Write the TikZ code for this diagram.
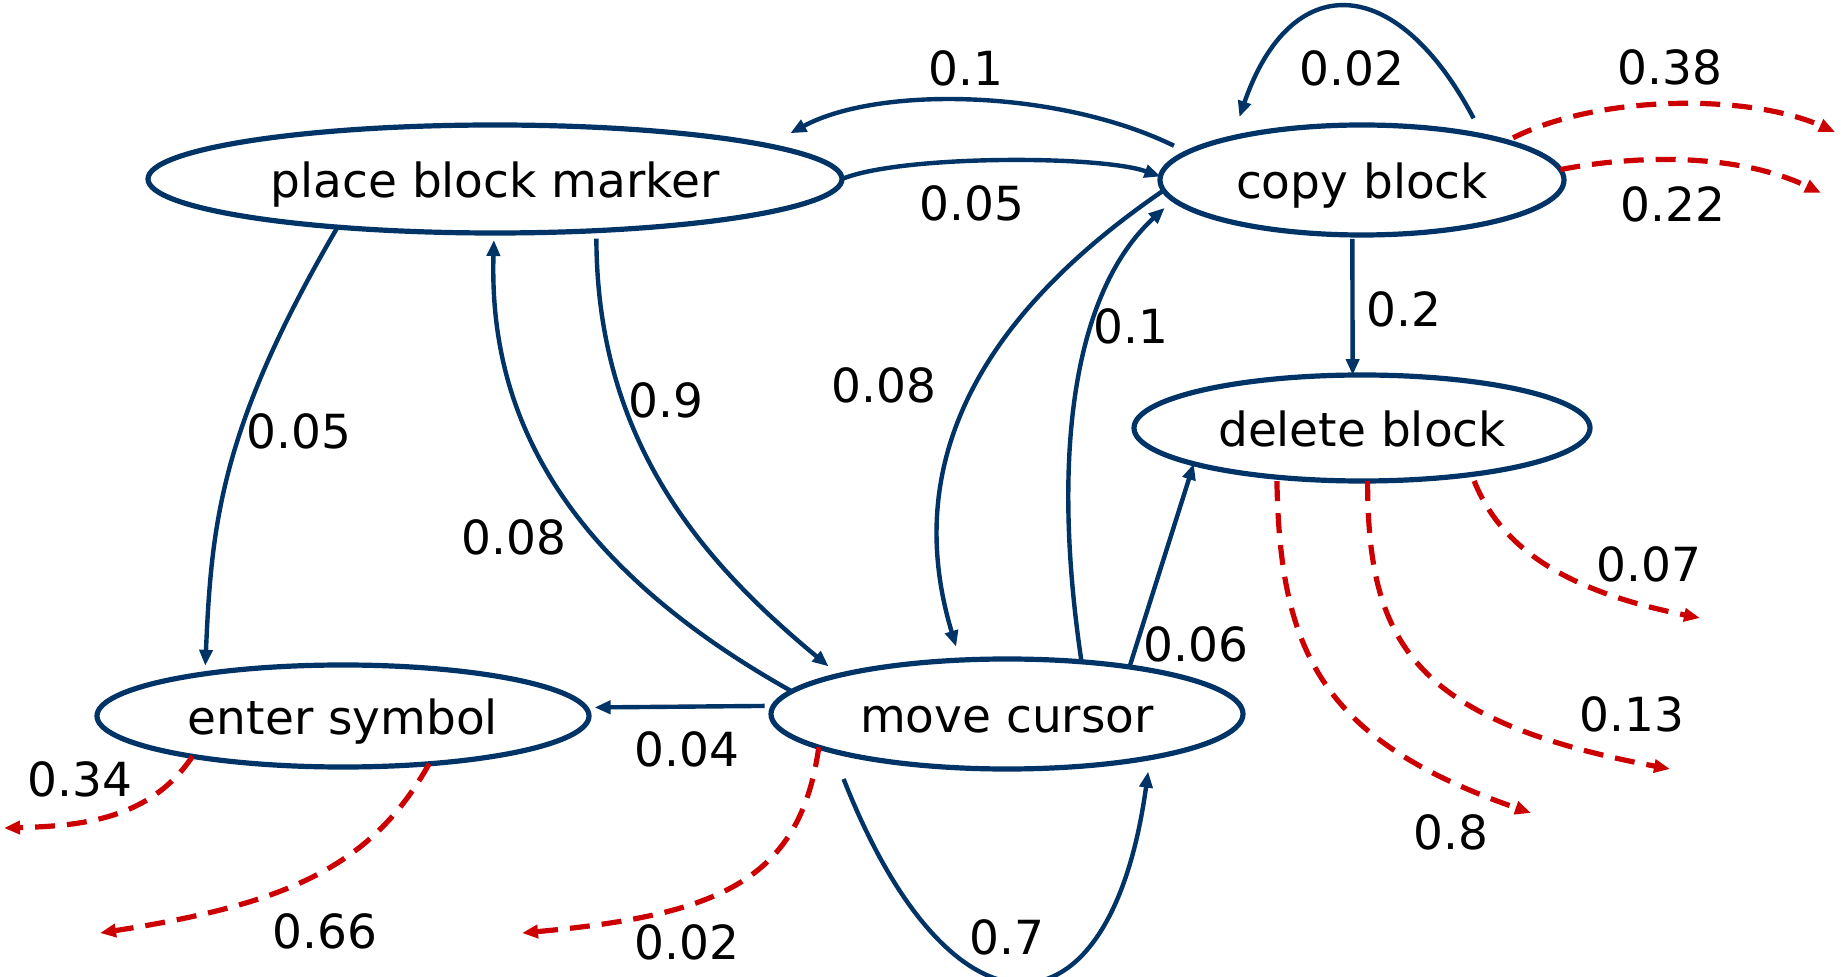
\documentclass[tikz,border=0pt]{standalone}
\usepackage{fontspec}
\setmainfont{DejaVu Sans}
\usetikzlibrary{arrows.meta,shapes.geometric}
\definecolor{navy}{RGB}{0,51,102}
\definecolor{dropred}{RGB}{204,0,0}
\begin{document}
\begin{tikzpicture}[x=0.5pt,y=-0.5pt,
  font=\fontsize{23.5}{28}\selectfont,
  state/.style={ellipse, draw=navy, line width=2.6pt, inner sep=0pt, outer sep=0pt, fill=white,
                text height=19pt, text depth=0pt},
  edge/.style={draw=navy, line width=2.2pt, -{Triangle[length=8pt,width=6.5pt]}},
  exit/.style={draw=dropred, line width=2.6pt, dash pattern=on 10pt off 6pt, -{Triangle[length=8pt,width=6.5pt]}},
  lbl/.style={inner sep=0pt}
]
\useasboundingbox (0,0) rectangle (1847,977);

% states
\node[state, minimum width=347pt, minimum height=54pt] (pbm) at (495,179) {place block marker};
\node[state, minimum width=202pt, minimum height=55pt] (cb) at (1362,180) {copy block};
\node[state, minimum width=228pt, minimum height=53pt] (db) at (1362,428) {delete block};
\node[state, minimum width=246pt, minimum height=51pt] (es) at (343,716) {enter symbol};
\node[state, minimum width=236pt, minimum height=55pt] (mc) at (1007,714) {move cursor};

% free ends of the exit transitions
\coordinate (x38) at (1835,132);
\coordinate (x22) at (1821,193);
\coordinate (x34) at (4,828);
\coordinate (x66) at (100,933);
\coordinate (x02) at (522,933);
\coordinate (x8)  at (1531,813);
\coordinate (x13) at (1670,769);
\coordinate (x07) at (1700,618);

% transitions between states
\draw[edge, shorten <=7.5pt, shorten >=13pt] (cb.171.7) .. controls (1060,90) and (880,85) .. (pbm.7.6)
  node[lbl] (l1) at (966,68) {0.1};
\draw[edge] (pbm.east) .. controls (900,155) and (1100,155) .. (cb.179)
  node[lbl] (l2) at (972,203) {0.05};
\draw[edge, shorten <=10pt, shorten >=11pt] (cb.20) .. controls (1395,-30) and (1290,-30) .. (cb.162.5)
  node[lbl] (l3) at (1352,68) {0.02};
\draw[edge, shorten <=2pt] (cb.260) -- (db.100)
  node[lbl] (l4) at (1404,309) {0.2};
\draw[edge, shorten >=4pt] (pbm.197.3) .. controls (220,428) and (211.5,524) .. (es.163.2)
  node[lbl] (l5) at (299,431) {0.05};
\draw[edge, shorten >=3.5pt] (mc.174.8) .. controls (530,545) and (490,380) .. (pbm.269)
  node[lbl] (l6) at (514,537) {0.08};
\draw[edge, shorten <=4pt, shorten >=7pt] (pbm.333.2) .. controls (597,440) and (700,560) .. (mc.167.5)
  node[lbl] (l7) at (666,400) {0.9};
\draw[edge, shorten >=7pt] (cb.183) .. controls (930,350) and (915,510) .. (mc.131)
  node[lbl] (l8) at (884,385) {0.08};
\draw[edge, shorten >=6pt] (mc.35.6) .. controls (1050,450) and (1075,290) .. (cb.186.8)
  node[lbl] (l9) at (1131,326) {0.1};
\draw[edge] (mc.21.6) -- (db.192.8)
  node[lbl] (l10) at (1196,644) {0.06};
\draw[edge, shorten <=4.5pt, shorten >=4.5pt] (mc.178.3) -- (es.2.1)
  node[lbl] (l11) at (687,749) {0.04};
\draw[edge, shorten <=15pt, shorten >=7pt] (mc.192.9) .. controls (950,1050) and (1110,1050) .. (mc.343.7)
  node[lbl] (l12) at (1007,937) {0.7};

% exit transitions
\draw[exit, shorten <=4pt] (cb.15) .. controls (1600,94) and (1750,94) .. (x38)
  node[lbl] (l13) at (1670,67) {0.38};
\draw[exit] (cb.3) .. controls (1640,154) and (1740,154) .. (x22)
  node[lbl] (l14) at (1673,204) {0.22};
\draw[exit] (mc.190.7) .. controls (800,880) and (720,915) .. (x02)
  node[lbl] (l15) at (687,942) {0.02};
\draw[exit] (es.195.4) .. controls (150,820) and (80,826) .. (x34)
  node[lbl] (l16) at (80,779) {0.34};
\draw[exit] (es.331.3) .. controls (370,870) and (280,905) .. (x66)
  node[lbl] (l17) at (325,931) {0.66};
\draw[exit, shorten <=2pt] (db.210.1) .. controls (1280,650) and (1320,740) .. (x8)
  node[lbl] (l18) at (1451,832) {0.8};
\draw[exit] (db.276.5) .. controls (1368,640) and (1410,720) .. (x13)
  node[lbl] (l19) at (1632,714) {0.13};
\draw[exit, shorten <=3.5pt] (db.337.6) .. controls (1500,545) and (1560,590) .. (x07)
  node[lbl] (l20) at (1649,564) {0.07};
\end{tikzpicture}
\end{document}
